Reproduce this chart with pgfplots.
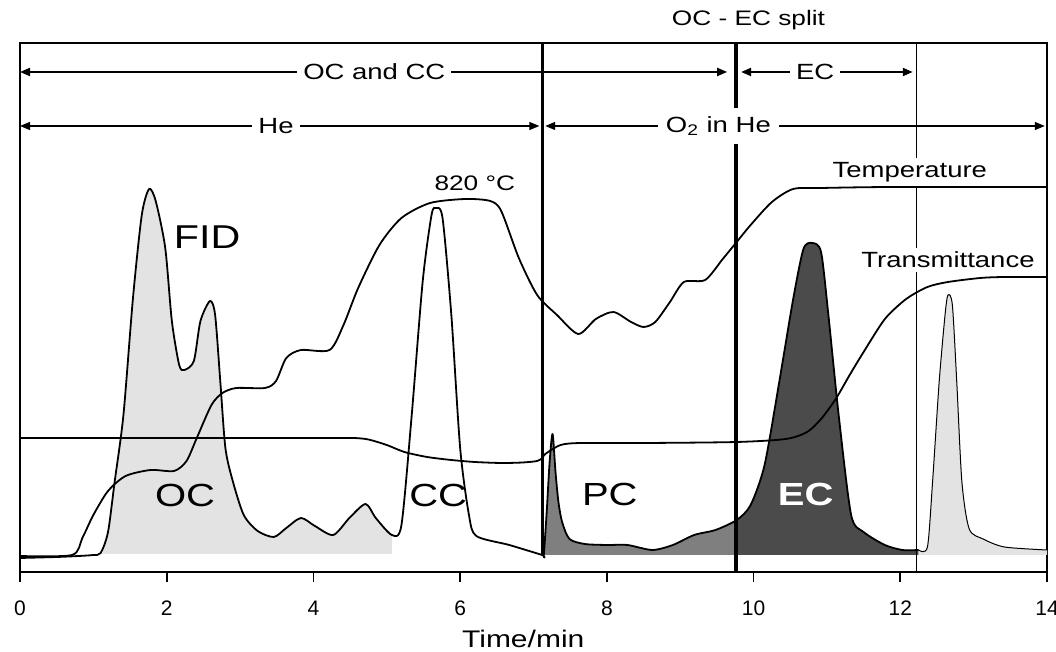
\documentclass[border=0pt]{standalone}
\usepackage{fontspec}
\setmainfont{Liberation Sans}
\newfontfamily\wide{Liberation Sans}[FakeStretch=1.25]
\usepackage{pgfplots}
\pgfplotsset{compat=1.18}
\usetikzlibrary{arrows.meta}
\definecolor{LightFill}{HTML}{E3E3E3}
\definecolor{MidFill}{HTML}{7F7F7F}
\definecolor{DarkFill}{HTML}{4B4B4B}
\newcommand{\lab}[2]{{\wide\fontsize{#1}{#1}\selectfont #2}}

\begin{document}
\begin{tikzpicture}
\useasboundingbox (-10pt,-40pt) rectangle (518pt,286pt);
\begin{axis}[
  at={(0,0)}, anchor=south west,
  scale only axis,
  width=513.5pt, height=264.5pt,
  xmin=0, xmax=14, ymin=0, ymax=529,
  xtick={0,2,...,14}, ytick=\empty,
  xtick pos=bottom, tick align=outside, major tick length=5pt,
  axis line style={line width=1.2pt},
  tick style={line width=0.9pt, black},
  /pgf/number format/assume math mode=true,
  xticklabel style={font=\fontsize{10.5}{12}\selectfont, yshift=-6pt},
  xlabel={Time/min},
  xlabel style={font=\wide\fontsize{12}{14}\selectfont, at={(axis description cs:0.49,0)}, anchor=center, yshift=-33.5pt},
  clip=false,
  every axis plot/.append style={line join=round},
]
% fills under the FID trace
\addplot[draw=none, fill=LightFill, smooth, tension=0.45] coordinates {
  (1.12,18) (1.20,40) (1.29,90) (1.41,157) (1.54,274) (1.66,357) (1.76,383) (1.85,371)
  (1.98,324) (2.07,251) (2.17,207) (2.24,202) (2.37,211) (2.46,251) (2.59,271) (2.66,257)
  (2.73,191) (2.80,124) (2.90,91) (3.05,57) (3.24,41) (3.46,35) (3.63,44) (3.83,54)
  (4.02,46) (4.27,37) (4.49,54) (4.71,68) (4.85,54) (5.07,37)
} -- (axis cs:5.07,18) -- cycle;
\addplot[draw=none, fill=MidFill, smooth, tension=0.45] coordinates {
  (7.13,17) (7.18,60) (7.22,110) (7.26,138) (7.30,100) (7.34,70) (7.39,50) (7.49,33)
  (7.70,28) (8.00,27) (8.28,27) (8.62,22) (8.90,27) (9.19,37) (9.48,42) (9.77,52)
} -- (axis cs:9.77,17) -- cycle;
\addplot[draw=none, fill=DarkFill, smooth, tension=0.45] coordinates {
  (9.77,52) (9.96,67) (10.15,107) (10.35,190) (10.54,273) (10.68,323) (10.80,329)
  (10.92,320) (11.02,257) (11.16,157) (11.33,57) (11.50,40) (11.79,27) (12.03,22) (12.25,22)
} -- (axis cs:12.25,17) -- (axis cs:9.77,17) -- cycle;
\addplot[draw=none, fill=LightFill, smooth, tension=0.45] coordinates {
  (12.25,22) (12.37,25) (12.44,90) (12.53,190) (12.61,257) (12.65,277) (12.71,267)
  (12.77,190) (12.84,90) (12.94,43) (13.13,33) (13.42,25) (14.00,22)
} -- (axis cs:14,17) -- (axis cs:12.25,17) -- cycle;

% FID trace
\addplot[black, line width=0.9pt, smooth, tension=0.45] coordinates {
  (0,14) (0.50,15) (0.80,16) (1.00,17) (1.10,19) (1.20,40) (1.29,90) (1.41,157)
  (1.54,274) (1.66,357) (1.76,383) (1.85,371) (1.98,324) (2.07,251) (2.17,207) (2.24,202)
  (2.37,211) (2.46,251) (2.59,271) (2.66,257) (2.73,191) (2.80,124) (2.90,91) (3.05,57)
  (3.24,41) (3.46,35) (3.63,44) (3.83,54) (4.02,46) (4.27,37) (4.49,54) (4.71,68)
  (4.85,54) (5.07,37) (5.20,47) (5.34,157) (5.49,291) (5.61,357) (5.67,364) (5.76,354)
  (5.88,257) (6.00,124) (6.12,57) (6.22,36) (6.67,27) (7.12,17) (7.14,17) (7.18,60)
  (7.22,110) (7.26,138) (7.30,100) (7.34,70) (7.39,50) (7.49,33) (7.70,28) (8.00,27)
  (8.28,27) (8.62,22) (8.90,27) (9.19,37) (9.48,42) (9.77,52) (9.96,67) (10.15,107)
  (10.35,190) (10.54,273) (10.68,323) (10.80,329) (10.92,320) (11.02,257) (11.16,157)
  (11.33,57) (11.50,40) (11.79,27) (12.03,22) (12.25,22)
};
\addplot[black, line width=0.5pt, smooth, tension=0.45] coordinates {
  (12.25,22) (12.37,25) (12.44,90) (12.53,190) (12.61,257) (12.65,277) (12.71,267)
  (12.77,190) (12.84,90) (12.94,43) (13.13,33) (13.42,25) (14.00,22)
};

% transmittance
\addplot[black, line width=0.9pt, smooth, tension=0.45] coordinates {
  (0,134) (1.5,134) (3.0,134) (4.2,134) (4.55,134) (4.75,132.5) (5.00,127) (5.24,120)
  (5.55,115) (5.88,112) (6.20,110) (6.56,109) (6.85,109.5) (7.05,111) (7.12,114)
  (7.16,118) (7.37,127) (7.65,129) (8.52,129) (9.77,130) (10.44,133) (10.73,140)
  (10.92,153) (11.12,173) (11.31,197) (11.50,220) (11.79,253) (12.08,273) (12.37,285)
  (12.65,290) (13.09,294) (13.42,295) (14,295)
};

% temperature
\addplot[black, line width=0.9pt, smooth, tension=0.45] coordinates {
  (0,16) (0.71,17) (0.85,34) (1.00,57) (1.20,81) (1.44,96) (1.78,102) (2.10,101)
  (2.27,111) (2.41,134) (2.61,167) (2.76,179) (2.95,184) (3.34,184) (3.49,191) (3.63,214)
  (3.83,222) (4.22,222) (4.41,247) (4.61,284) (4.90,327) (5.20,354) (5.59,369) (6.07,373)
  (6.41,371) (6.56,361) (6.80,314) (7.05,277) (7.32,257) (7.61,238) (7.85,253) (8.09,260)
  (8.33,250) (8.50,245) (8.66,250) (8.86,270) (9.05,290) (9.34,292) (9.58,313) (9.77,330)
  (9.96,347) (10.25,370) (10.54,383) (10.92,384) (11.88,385) (14,385)
};

% phase boundaries
\addplot[black, line width=1.2pt] coordinates {(7.12,17) (7.12,529)};
\addplot[black, line width=1.6pt] coordinates {(9.76,0) (9.76,529)};
\addplot[black, line width=0.5pt] coordinates {(12.22,0) (12.22,529)};

% ranges
\draw[line width=1pt, {Triangle[length=5pt,width=4pt]}-{Triangle[length=5pt,width=4pt]}]
  (axis cs:0,500) -- (axis cs:9.64,500);
\draw[line width=1pt, {Triangle[length=5pt,width=4pt]}-{Triangle[length=5pt,width=4pt]}]
  (axis cs:9.83,500) -- (axis cs:12.17,500);
\draw[line width=0.6pt, {Triangle[length=5pt,width=4pt]}-{Triangle[length=5pt,width=4pt]}]
  (axis cs:0,446) -- (axis cs:7.08,446);
\draw[line width=0.6pt, {Triangle[length=5pt,width=4pt]}-{Triangle[length=5pt,width=4pt]}]
  (axis cs:7.16,446) -- (axis cs:13.97,446);

\node[fill=white, inner sep=3pt] at (axis cs:4.83,500) {\lab{11}{OC and CC}};
\node[fill=white, inner sep=3pt] at (axis cs:10.84,500) {\lab{11}{EC}};
\node[fill=white, inner sep=3pt] at (axis cs:3.49,446) {\lab{11}{He}};
\node[fill=white, inner sep=4pt] at (axis cs:9.52,446) {\lab{11}{O\textsubscript{2} in He}};
\node at (axis cs:9.93,552) {\lab{10.5}{OC - EC split}};

\node[fill=white, inner sep=2pt] at (axis cs:12.13,400) {\lab{11}{Temperature}};
\node[fill=white, inner sep=2pt] at (axis cs:12.65,312) {\lab{11}{Transmittance}};
\node at (axis cs:6.2,389) {\lab{10.5}{820 °C}};

\node at (axis cs:2.55,335) {\lab{16.5}{FID}};
\node at (axis cs:2.25,77) {\lab{16}{OC}};
\node at (axis cs:5.70,77) {\lab{16}{CC}};
\node at (axis cs:8.04,78) {\lab{16}{PC}};
\node[text=white] at (axis cs:10.71,78) {\lab{16}{\bfseries EC}};
\end{axis}
\end{tikzpicture}
\end{document}
